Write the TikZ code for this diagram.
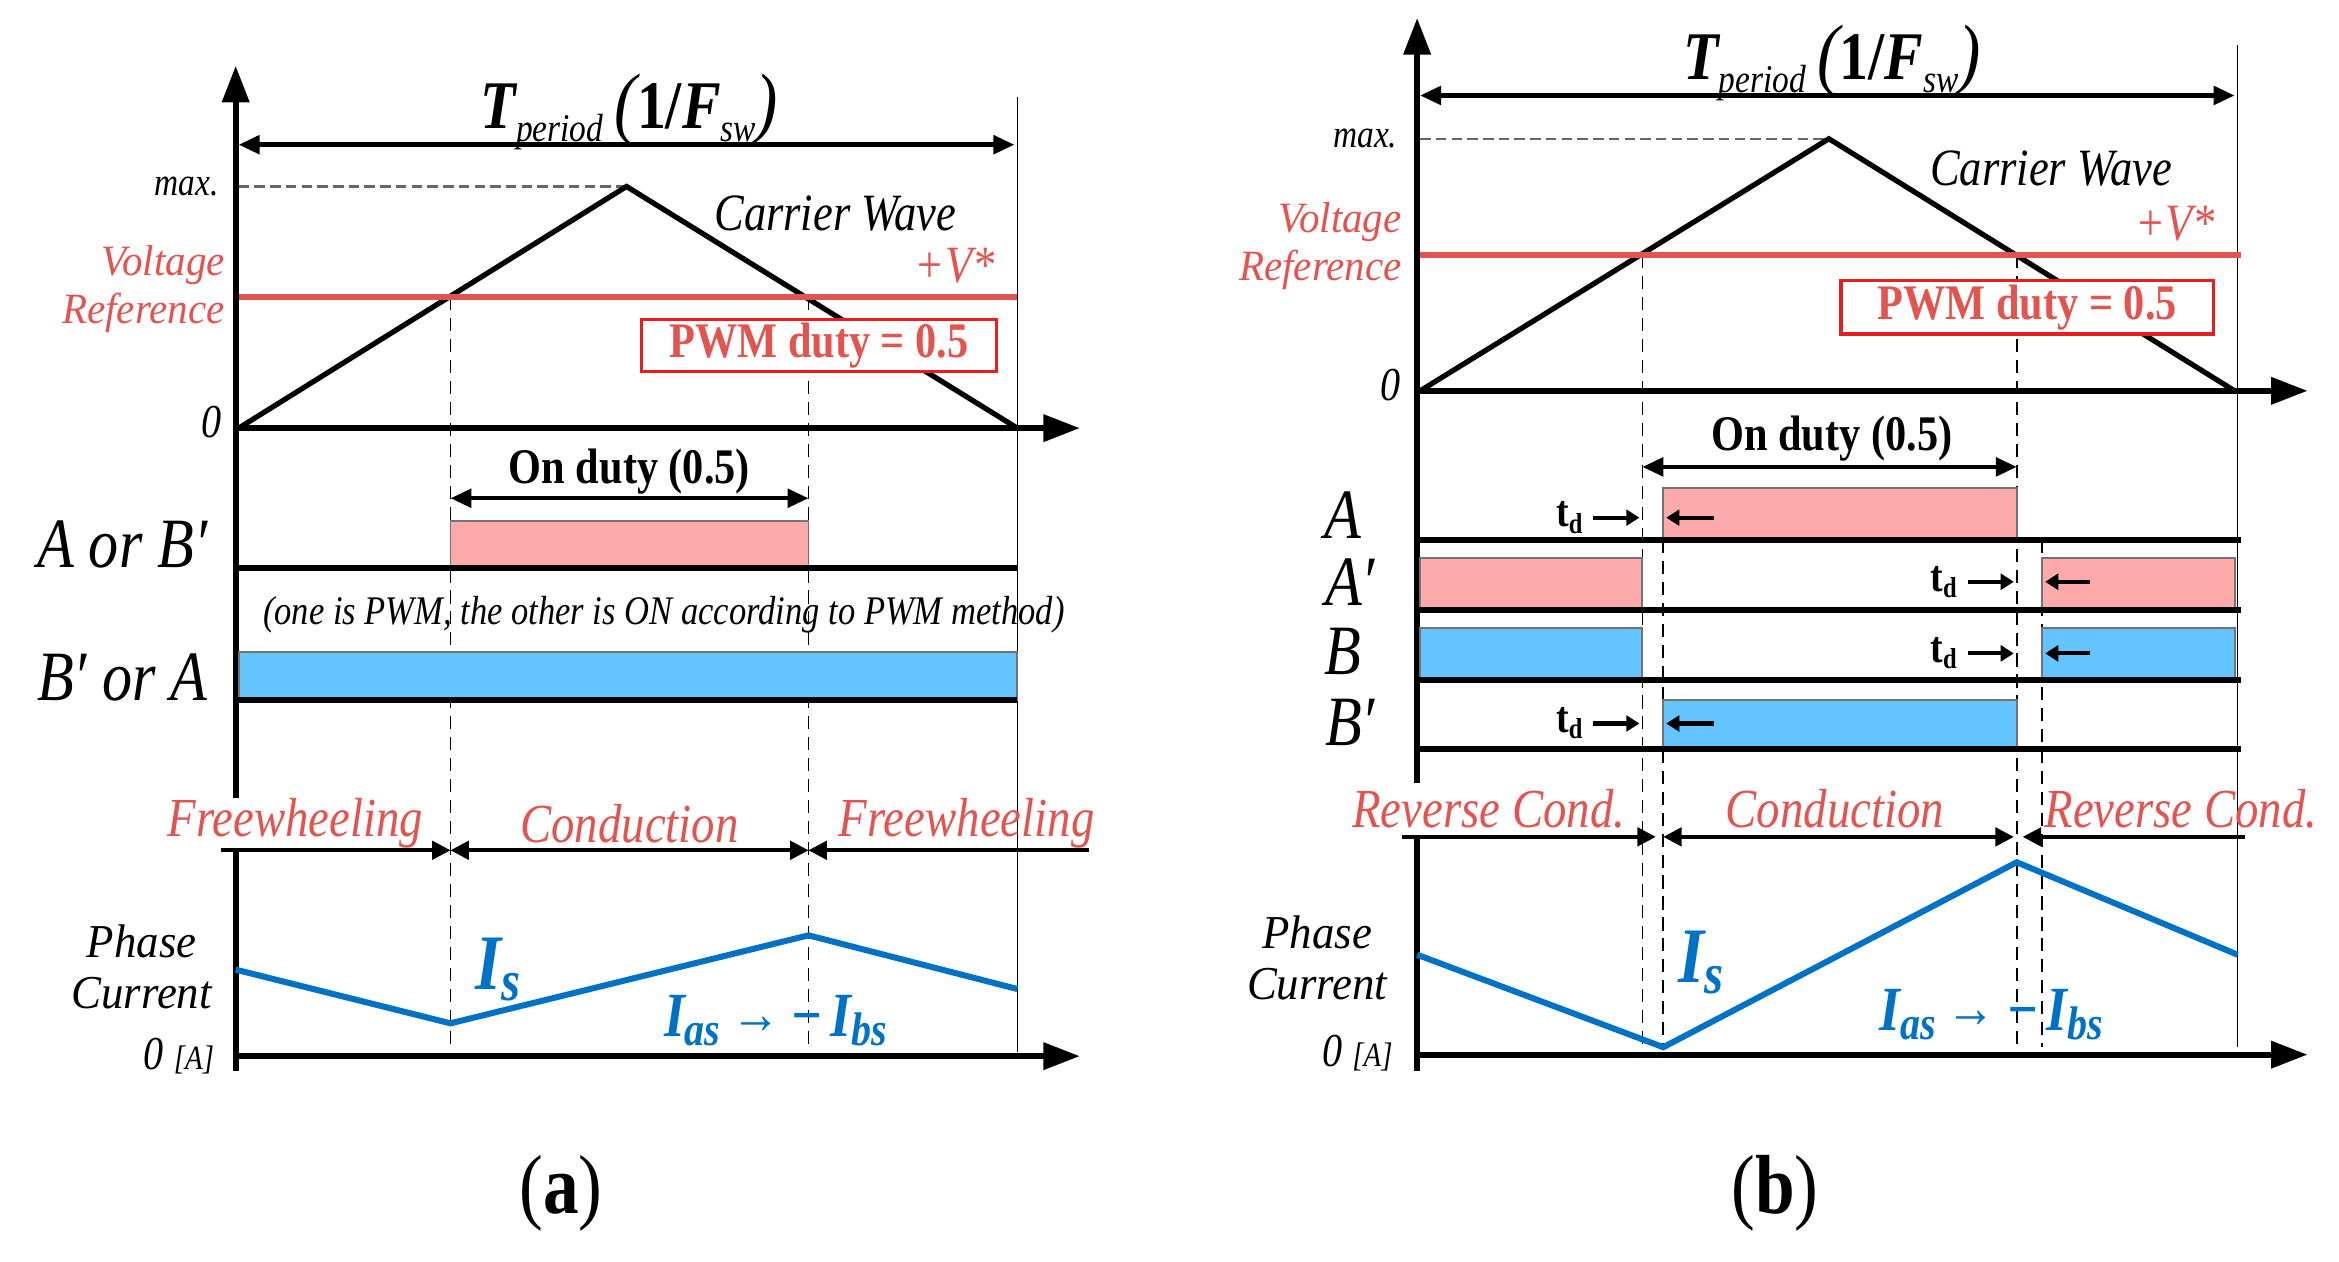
\documentclass[tikz,border=0pt]{standalone}
\usepackage{fontspec}
\setmainfont{Liberation Serif}
\newfontfamily\cond[FakeStretch=0.85]{Liberation Serif}
\newfontfamily\condw[FakeStretch=0.95]{Liberation Serif}
\usetikzlibrary{arrows.meta}

\definecolor{refred}{RGB}{226,84,80}
\definecolor{boxred}{RGB}{230,30,30}
\definecolor{pwmpink}{RGB}{255,170,170}
\definecolor{pwmblue}{RGB}{100,196,255}
\definecolor{curblue}{RGB}{0,114,198}

\newcommand{\fs}[1]{\fontsize{#1}{#1}\selectfont}
\newcommand{\iasibs}{\textbf{I}\raisebox{-0.3ex}{\fs{18}\bfseries as}\,\raisebox{0.1ex}{\upshape\bfseries\fs{22}→}\,\textbf{−\kern3pt I}\raisebox{-0.3ex}{\fs{18}\bfseries bs}}
\newcommand{\tperiod}{\textbf{T}\raisebox{-0.4ex}{\fs{15}period}\,{\fs{30}(}\textbf{\upshape 1/}\textbf{F}\raisebox{-0.4ex}{\fs{15}sw}{\fs{30})}}
\newcommand{\tdlab}{t\raisebox{-0.3ex}{\fs{11}d}}

\tikzset{
  axisline/.style={line width=2.4pt,-{Triangle[length=14pt,width=10pt]}},
  carrier/.style={line width=2pt},
  vref/.style={line width=2.4pt,refred},
  edgeline/.style={line width=0.6pt},
  dashline/.style={line width=0.6pt,dash pattern=on 5pt off 3pt},
  maxline/.style={line width=0.8pt,black!60,dash pattern=on 4pt off 2pt},
  dimarrow/.style={line width=1.7pt,{Triangle[length=8pt,width=7pt]}-{Triangle[length=8pt,width=7pt]}},
  segR/.style={line width=1.4pt,-{Triangle[length=7pt,width=7pt]}},
  segB/.style={line width=1.4pt,{Triangle[length=7pt,width=7pt]}-{Triangle[length=7pt,width=7pt]}},
  segL/.style={line width=1.4pt,{Triangle[length=7pt,width=7pt]}-},
  rail/.style={line width=2.3pt},
  pulse/.style={draw=black!55,line width=0.7pt},
  current/.style={line width=2.3pt,curblue},
  tdarrow/.style={line width=1.6pt,-{Triangle[length=5pt,width=6pt]}},
  txt/.style={inner sep=0pt,font=\cond\itshape\fs{#1}},
  widetxt/.style={inner sep=0pt,font=\condw\itshape\fs{#1}},
  uptxt/.style={inner sep=0pt,font=\cond\fs{#1}},
  boldtxt/.style={inner sep=0pt,font=\cond\bfseries\fs{#1}},
  dutybox/.style={boldtxt=19,text=refred,draw=boxred,fill=white,line width=1.3pt},
}

\begin{document}
\begin{tikzpicture}[x=0.02cm,y=-0.02cm]
\useasboundingbox (0,0) rectangle (1568,846);

% ================= (a) =================
% guide lines
\draw[edgeline] (682,65) -- (682,705);
\draw[dashline] (302,199) -- (302,705);
\draw[dashline] (542,199) -- (542,705);
\draw[maxline] (160,125) -- (420,125);
% carrier and reference
\draw[carrier] (160,287) -- (420,125) -- (682,287);
\draw[vref] (158,199) -- (682,199);
\draw[axisline] (158,287) -- (724,287);
\draw[axisline] (158,535) -- (158,44);
\draw[dimarrow] (160,97) -- (680,97);
\node[txt=26] (tpa) at (422,75) {\tperiod};
\node[txt=15,anchor=east] (maxa) at (147,125) {max.};
\node[txt=20] (cwa) at (560,143) {Carrier Wave};
\node[widetxt=16.5,text=refred,anchor=east] (vra1) at (151,178) {Voltage};
\node[widetxt=16.5,text=refred,anchor=east] (vra2) at (151,210) {Reference};
\node[txt=20,text=refred] (vsa) at (640,178) {+V*};
\node[dutybox,minimum width=4.76cm,minimum height=0.7cm] (pwma) at (549,231.5) {PWM duty = 0.5};
\node[txt=18] (za) at (142,283) {0};

% gate signals
\draw[dimarrow] (302,334) -- (542,334);
\node[boldtxt=19] (oda) at (422,316) {On duty (0.5)};
\filldraw[pulse,fill=pwmpink] (302,349) rectangle (542,381);
\draw[rail] (158,381) -- (682,381);
\node[txt=27] (aba) at (82,365) {A or B′};
\node[txt=15.5] (note) at (445,412) {(one is PWM, the other is ON according to PWM method)};
\filldraw[pulse,fill=pwmblue] (160,437) rectangle (682,469);
\draw[rail] (158,469) -- (682,469);
\node[txt=27] (baa) at (82,454) {B′ or A};

% modes
\draw[segR] (148,570) -- (302,570);
\draw[segB] (302,570) -- (542,570);
\draw[segL] (542,570) -- (730,570);
\node[txt=21,text=refred] (fw1) at (198,552) {Freewheeling};
\node[txt=21,text=refred] (cda) at (422,552) {Conduction};
\node[txt=21,text=refred] (fw2) at (648,552) {Freewheeling};

% phase current
\draw[line width=2.4pt] (158,570) -- (158,718);
\draw[axisline] (158,708) -- (724,708);
\draw[current] (158,650) -- (302,686) -- (542,627) -- (682,663);
\node[widetxt=18] (pca1) at (95,631) {Phase};
\node[widetxt=18] (pca2) at (95,666) {Current};
\node[txt=30,text=curblue] (isa) at (334,650) {\textbf{I}\raisebox{-0.3ex}{\fs{22}\bfseries s}};
\node[txt=24,text=curblue] (iaa) at (520,684) {\iasibs};
\node[txt=18] (z0a) at (120,708) {0 {\fs{13}[A]}};
\node[uptxt=32] (capa) at (376,800) {(\textbf{a})};

% ================= (b) =================
% guide lines
\draw[edgeline] (1500,30) -- (1500,702);
\draw[dashline] (1101,171) -- (1101,702);
\draw[dashline] (1352,171) -- (1352,702);
\draw[dashline] (1115,362) -- (1115,702);
\draw[dashline] (1369,362) -- (1369,702);
\draw[maxline] (952,93) -- (1226,93);
% carrier and reference
\draw[carrier] (952,262) -- (1226,93) -- (1498,262);
\draw[vref] (950,171) -- (1502,171);
\draw[axisline] (950,262) -- (1547,262);
\draw[axisline] (950,525) -- (950,12);
\draw[dimarrow] (952,64) -- (1498,64);
\node[txt=26] (tpb) at (1228,42) {\tperiod};
\node[txt=15,anchor=east] (maxb) at (937,93) {max.};
\node[txt=20] (cwb) at (1375,113) {Carrier Wave};
\node[widetxt=16.5,text=refred,anchor=east] (vrb1) at (940,149) {Voltage};
\node[widetxt=16.5,text=refred,anchor=east] (vrb2) at (940,181) {Reference};
\node[txt=20,text=refred] (vsb) at (1458,150) {+V*};
\node[dutybox,minimum width=5.0cm,minimum height=0.72cm] (pwmb) at (1359,206) {PWM duty = 0.5};
\node[txt=18] (zb) at (932,258) {0};

% gate signals with dead time
\draw[dimarrow] (1101,313) -- (1352,313);
\node[boldtxt=19] (odb) at (1228,294) {On duty (0.5)};
% A
\filldraw[pulse,fill=pwmpink] (1115,327) rectangle (1352,362);
\draw[rail] (950,362) -- (1502,362);
\node[txt=27] (la) at (900,345) {A};
% A'
\filldraw[pulse,fill=pwmpink] (952,374) rectangle (1101,409);
\filldraw[pulse,fill=pwmpink] (1369,374) rectangle (1498,409);
\draw[rail] (950,409) -- (1502,409);
\node[txt=27] (lap) at (905,390) {A′};
% B
\filldraw[pulse,fill=pwmblue] (952,421) rectangle (1101,456);
\filldraw[pulse,fill=pwmblue] (1369,421) rectangle (1498,456);
\draw[rail] (950,456) -- (1502,456);
\node[txt=27] (lb) at (900,437) {B};
% B'
\filldraw[pulse,fill=pwmblue] (1115,469) rectangle (1352,502);
\draw[rail] (950,502) -- (1502,502);
\node[txt=27] (lbp) at (905,484) {B′};
% dead time marks
\foreach \y in {347,485} {
  \node[boldtxt=17] at (1052,\y) {\tdlab};
  \draw[tdarrow] (1068,\y) -- (1099,\y);
  \draw[tdarrow] (1149,\y) -- (1117,\y);
}
\foreach \y in {390,438} {
  \node[boldtxt=17] at (1303,\y) {\tdlab};
  \draw[tdarrow] (1319,\y) -- (1350,\y);
  \draw[tdarrow] (1401,\y) -- (1371,\y);
}

% modes
\draw[segR] (940,561) -- (1110,561);
\draw[segB] (1115,561) -- (1350,561);
\draw[segL] (1356,561) -- (1505,561);
\node[txt=21,text=refred] (rc1) at (998,542) {Reverse Cond.};
\node[txt=21,text=refred] (cdb) at (1230,542) {Conduction};
\node[txt=21,text=refred] (rc2) at (1462,542) {Reverse Cond.};

% phase current
\draw[line width=2.4pt] (950,561) -- (950,718);
\draw[axisline] (950,707) -- (1547,707);
\draw[current] (950,640) -- (1115,702) -- (1352,578) -- (1500,640);
\node[widetxt=18] (pcb1) at (883,625) {Phase};
\node[widetxt=18] (pcb2) at (883,660) {Current};
\node[txt=30,text=curblue] (isb) at (1140,645) {\textbf{I}\raisebox{-0.3ex}{\fs{22}\bfseries s}};
\node[txt=24,text=curblue] (iab) at (1335,680) {\iasibs};
\node[txt=18] (z0b) at (910,706) {0 {\fs{13}[A]}};
\node[uptxt=32] (capb) at (1190,800) {(\textbf{b})};
\end{tikzpicture}
\end{document}
